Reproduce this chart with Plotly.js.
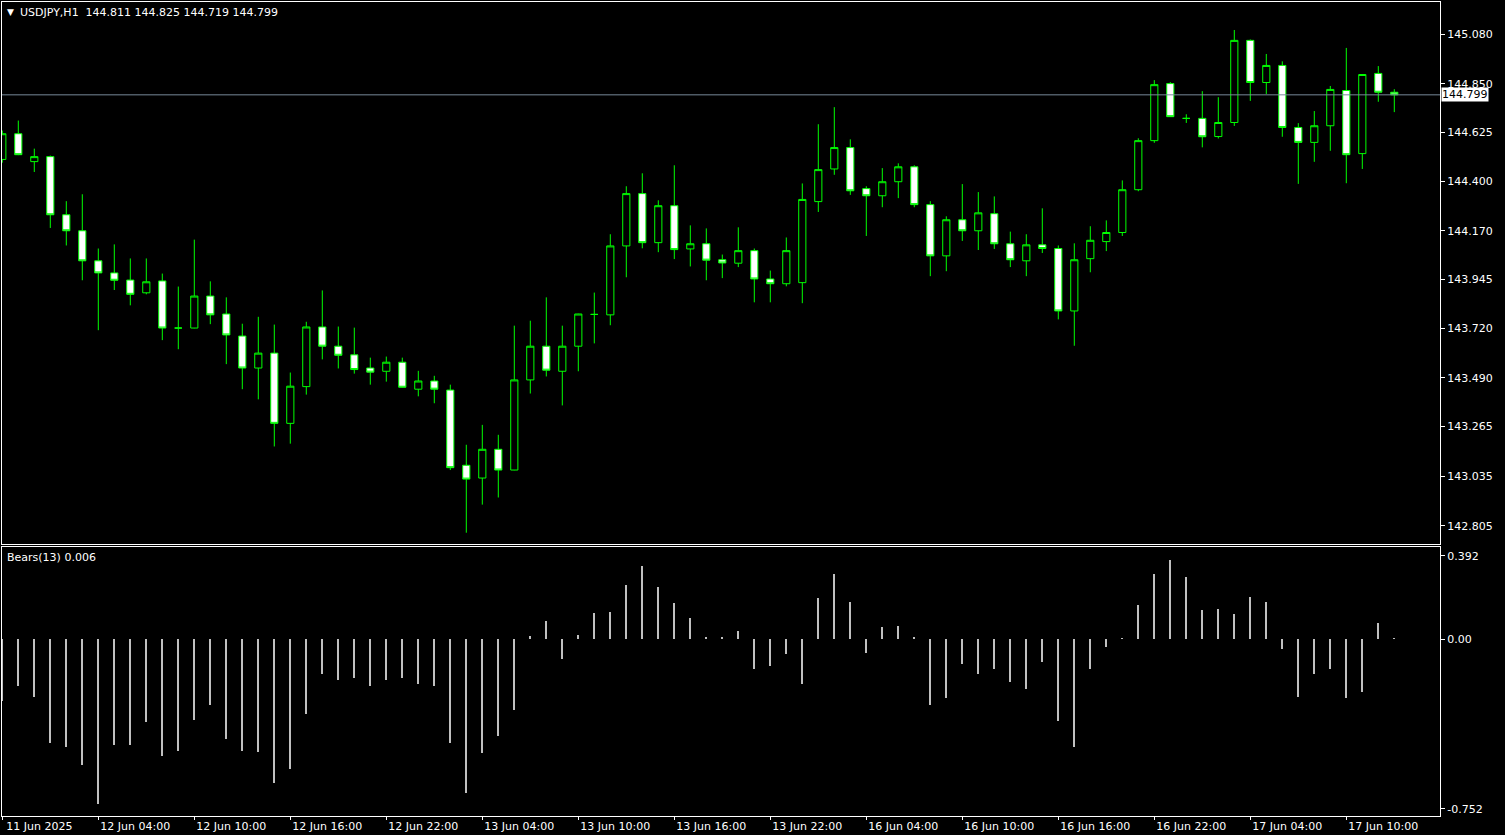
<!DOCTYPE html>
<html><head><meta charset="utf-8">
<script src="https://cdn.plot.ly/plotly-3.0.1.min.js"></script>
<style>html,body{margin:0;padding:0;background:#000;overflow:hidden}#chart{width:1505px;height:835px}</style>
</head><body><div id="chart"></div>
<script>
const symbol = 'USDJPY,H1';
const indicatorName = 'Bears(13)';

const openP = [144.500,144.619,144.490,144.513,144.244,144.170,144.031,143.975,143.942,143.883,
143.938,143.720,143.720,143.868,143.785,143.683,143.535,143.604,143.279,143.449,
143.725,143.636,143.596,143.535,143.520,143.562,143.437,143.475,143.433,143.085,
143.026,143.159,143.063,143.480,143.636,143.520,143.636,143.783,143.781,144.100,
144.342,144.115,144.286,144.086,144.110,144.036,144.020,144.078,143.947,143.925,
143.930,144.305,144.456,144.555,144.365,144.332,144.397,144.466,144.291,144.054,
144.221,144.170,144.249,144.110,144.031,144.105,144.088,143.799,144.041,144.120,
144.162,144.360,144.587,144.851,144.690,144.690,144.606,144.671,145.051,144.856,
144.935,144.648,144.579,144.656,144.819,144.527,144.898,144.811];
const highP = [144.634,144.680,144.550,144.518,144.307,144.339,144.088,144.107,144.042,144.042,
143.972,143.912,144.129,143.936,143.862,143.740,143.772,143.736,143.514,143.749,
143.894,143.727,143.722,143.583,143.588,143.583,143.522,143.499,143.458,143.180,
143.272,143.226,143.731,143.754,143.862,143.731,143.786,143.884,144.154,144.376,
144.436,144.311,144.473,144.195,144.181,144.060,144.186,144.088,143.986,144.139,
144.389,144.663,144.742,144.593,144.376,144.460,144.482,144.473,144.307,144.237,
144.386,144.349,144.329,144.166,144.154,144.274,144.102,144.112,144.191,144.218,
144.403,144.598,144.867,144.858,144.709,144.816,144.788,145.099,145.055,144.988,
144.954,144.668,144.724,144.840,145.016,144.893,144.932,144.825];
const lowP = [144.485,144.520,144.442,144.183,144.102,143.941,143.710,143.896,143.825,143.876,
143.664,143.622,143.719,143.738,143.553,143.437,143.390,143.172,143.185,143.412,
143.575,143.533,143.509,143.458,143.472,143.444,143.404,143.372,143.063,142.773,
142.903,142.936,143.062,143.417,143.496,143.362,143.520,143.649,143.733,143.955,
144.089,144.071,144.039,144.005,143.941,143.951,144.002,143.839,143.839,143.913,
143.835,144.257,144.429,144.336,144.146,144.279,144.321,144.279,143.960,143.983,
144.123,144.081,144.086,144.002,143.960,144.067,143.760,143.638,143.978,144.076,
144.146,144.353,144.577,144.698,144.669,144.556,144.597,144.655,144.771,144.803,
144.605,144.387,144.489,144.540,144.390,144.456,144.767,144.719];
const closeP = [144.619,144.522,144.513,144.244,144.170,144.031,143.975,143.941,143.876,143.934,
143.720,143.720,143.868,143.781,143.688,143.535,143.604,143.279,143.451,143.725,
143.636,143.594,143.528,143.516,143.562,143.446,143.475,143.437,143.074,143.021,
143.159,143.063,143.480,143.636,143.525,143.636,143.785,143.783,144.100,144.342,
144.115,144.286,144.083,144.110,144.034,144.021,144.078,143.947,143.925,144.078,
144.315,144.453,144.555,144.355,144.332,144.397,144.466,144.291,144.054,144.221,
144.170,144.253,144.110,144.036,144.105,144.088,143.799,144.036,144.126,144.162,
144.360,144.587,144.846,144.698,144.690,144.605,144.671,145.051,144.856,144.935,
144.648,144.579,144.656,144.824,144.522,144.893,144.811,144.799];
const bearsPower = [-0.265,-0.197,-0.244,-0.440,-0.457,-0.537,-0.699,-0.448,-0.452,-0.354,
-0.495,-0.474,-0.342,-0.282,-0.423,-0.474,-0.478,-0.610,-0.550,-0.320,
-0.146,-0.172,-0.167,-0.197,-0.172,-0.167,-0.189,-0.201,-0.440,-0.656,
-0.486,-0.410,-0.303,0.013,0.078,-0.086,0.018,0.112,0.116,0.231,
0.312,0.223,0.155,0.091,0.010,0.010,0.035,-0.125,-0.116,-0.061,
-0.189,0.176,0.278,0.159,-0.057,0.052,0.057,0.010,-0.278,-0.252,
-0.104,-0.150,-0.125,-0.184,-0.214,-0.099,-0.350,-0.457,-0.125,-0.035,
0.005,0.146,0.278,0.337,0.265,0.125,0.129,0.108,0.180,0.159,
-0.040,-0.248,-0.150,-0.125,-0.252,-0.223,0.069,0.006];

const timeTickBars = [0,6,12,18,24,30,36,42,48,54,60,66,72,78,84];
const timeTickLabels = ['11 Jun 2025','12 Jun 04:00','12 Jun 10:00','12 Jun 16:00','12 Jun 22:00',
 '13 Jun 04:00','13 Jun 10:00','13 Jun 16:00','13 Jun 22:00','16 Jun 04:00','16 Jun 10:00',
 '16 Jun 16:00','16 Jun 22:00','17 Jun 04:00','17 Jun 10:00'];
const priceTicks = [145.080,144.850,144.625,144.400,144.170,143.945,143.720,143.490,143.265,143.035,142.805];
const priceTickLabels = ['145.080','144.850','144.625','144.400','144.170','143.945','143.720','143.490','143.265','143.035','142.805'];
const indTickLabels = ['0.392','0.00','-0.752'];
const indMax = 0.392, indMin = -0.752;

const last = openP.length - 1;
const barIndex = openP.map((_, i) => i);
const fmt = v => v.toFixed(3);

const W = 1505, H = 835, mT = 2, mB = 19, mL = 2, mR = 65;
const plotH = H - mT - mB, plotW = W - mL - mR;
const mainBottomPx = 544, indTopPx = 547;
const pxPerBar = 16, firstBarPx = 2.3;
const xRange = [(mL - firstBarPx) / pxPerBar, (mL + plotW - firstBarPx) / pxPerBar];
const indPx = H - mB - indTopPx;
const indUnit = (indMax - indMin) / indPx;

const font = {family: 'DejaVu Sans, Verdana, sans-serif', size: 11, color: '#FFFFFF'};

const traces = [
 {type: 'candlestick', x: barIndex, open: openP, high: highP, low: lowP, close: closeP,
  xaxis: 'x', yaxis: 'y', whiskerwidth: 0, hoverinfo: 'skip', showlegend: false,
  increasing: {line: {color: '#00FF00', width: 1}, fillcolor: '#000000'},
  decreasing: {line: {color: '#00FF00', width: 1}, fillcolor: '#FFFFFF'}},
 {type: 'bar', x: barIndex, y: bearsPower, xaxis: 'x2', yaxis: 'y2', width: 0.12,
  marker: {color: '#C0C0C0', line: {width: 0}}, hoverinfo: 'skip', showlegend: false}
];

const axLine = {showline: true, mirror: true, linecolor: '#FFFFFF', linewidth: 1, showgrid: false, zeroline: false, fixedrange: true};

const layout = {
 width: W, height: H, paper_bgcolor: '#000000', plot_bgcolor: '#000000',
 margin: {l: mL, r: mR, t: mT, b: mB, pad: 0}, showlegend: false, hovermode: false,
 boxgap: 0.36, bargap: 0, font: font,
 xaxis: Object.assign({}, axLine, {domain: [0, 1], anchor: 'y', range: xRange, showticklabels: false, ticks: '', rangeslider: {visible: false}}),
 xaxis2: Object.assign({}, axLine, {domain: [0, 1], anchor: 'y2', matches: 'x', range: xRange,
   tickmode: 'array', tickvals: timeTickBars, ticktext: timeTickLabels, ticks: 'outside', ticklen: 3, tickcolor: '#FFFFFF',
   tickfont: {family: font.family, size: 11, color: '#FFFFFF'}, ticklabelshift: 37, ticklabelstandoff: -3}),
 yaxis: Object.assign({}, axLine, {domain: [(H - mB - mainBottomPx) / plotH, 1], anchor: 'x', side: 'right',
   range: [142.7208, 145.2285], tickmode: 'array', tickvals: priceTicks, ticktext: priceTickLabels,
   ticks: 'outside', ticklen: 4, tickcolor: '#FFFFFF', tickfont: font}),
 yaxis2: Object.assign({}, axLine, {domain: [0, indPx / plotH], anchor: 'x2', side: 'right',
   range: [indMin, indMax], tickmode: 'array',
   tickvals: [indMax - 8.7 * indUnit, 0, indMin + 7.3 * indUnit], ticktext: indTickLabels,
   ticks: 'outside', ticklen: 4, tickcolor: '#FFFFFF', tickfont: font}),
 shapes: [
  {type: 'line', xref: 'paper', x0: 0, x1: 1, yref: 'y', y0: closeP[last], y1: closeP[last], line: {color: '#778899', width: 1}}
 ],
 annotations: [
  {xref: 'paper', yref: 'paper', x: 0, y: 1, xanchor: 'left', yanchor: 'top', xshift: 3, yshift: -3, showarrow: false,
   text: '▼', font: {family: font.family, size: 9, color: '#FFFFFF'}},
  {xref: 'paper', yref: 'paper', x: 0, y: 1, xanchor: 'left', yanchor: 'top', xshift: 16, yshift: -2, showarrow: false,
   text: symbol + '  ' + [openP[last], highP[last], lowP[last], closeP[last]].map(fmt).join(' '), font: font},
  {xref: 'paper', yref: 'paper', x: 0, y: indPx / plotH, xanchor: 'left', yanchor: 'top', xshift: 3, yshift: -2, showarrow: false,
   text: indicatorName + ' ' + fmt(bearsPower[last]), font: font},
  {xref: 'paper', yref: 'y', x: 1, y: closeP[last], xanchor: 'left', yanchor: 'middle', xshift: 1, showarrow: false,
   text: fmt(closeP[last]), bgcolor: '#FFFFFF', borderpad: 0, font: {family: font.family, size: 11, color: '#000000'}}
 ]
};

Plotly.newPlot('chart', traces, layout, {staticPlot: true, displayModeBar: false});
</script>
</body></html>
